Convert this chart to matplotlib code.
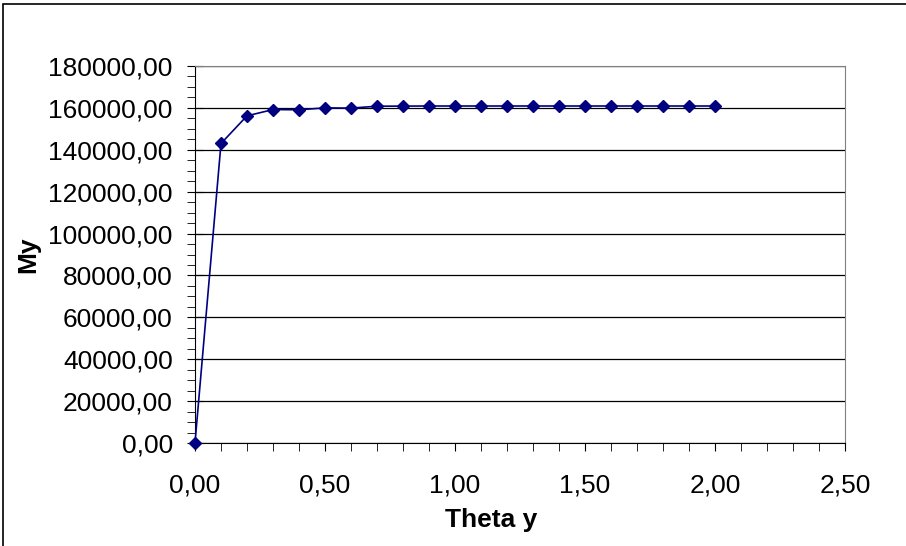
import numpy as np
import matplotlib.pyplot as plt
from matplotlib.ticker import MultipleLocator, FuncFormatter
from matplotlib.patches import Rectangle

# --- Data ---
theta_y = [0.0, 0.1, 0.2, 0.3, 0.4, 0.5, 0.6, 0.7, 0.8, 0.9, 1.0,
           1.1, 1.2, 1.3, 1.4, 1.5, 1.6, 1.7, 1.8, 1.9, 2.0]
my = [0.0, 143000, 156200, 159200, 159100, 160000, 159900, 160800, 160850, 160900, 160900,
      160900, 160900, 160900, 160900, 160900, 160900, 160900, 160900, 160900, 160900]

plt.rcParams['font.family'] = ['Liberation Sans', 'DejaVu Sans']

fig = plt.figure(figsize=(9.06, 5.46), dpi=100)
# outer chart frame (cut off at right/bottom like the original)
fig.patches.append(Rectangle((3 / 906, -0.1), 1.2, 1.1 - 4 / 546, transform=fig.transFigure,
                             fill=False, edgecolor='black', linewidth=1.2))

ax = fig.add_axes([195 / 906, 103 / 546, 650 / 906, 377 / 546])
ax.plot(theta_y, my, color='#000080', linewidth=1.2, marker='D', markersize=6,
        markerfacecolor='#000080', markeredgecolor='#000080', clip_on=False, zorder=3)

ax.set_xlim(0, 2.5)
ax.set_ylim(0, 180000)
ax.xaxis.set_major_locator(MultipleLocator(0.5))
ax.xaxis.set_minor_locator(MultipleLocator(0.1))
ax.yaxis.set_major_locator(MultipleLocator(20000))
ax.yaxis.set_minor_locator(MultipleLocator(5000))

comma = lambda v, p: f"{v:.2f}".replace('.', ',')
ax.xaxis.set_major_formatter(FuncFormatter(comma))
ax.yaxis.set_major_formatter(FuncFormatter(comma))

ax.grid(axis='y', which='major', color='black', linewidth=0.9)
ax.set_axisbelow(True)

for s in ['top', 'right']:
    ax.spines[s].set_color('#808080')
for s in ['left', 'bottom']:
    ax.spines[s].set_color('black')

ax.tick_params(axis='both', which='major', labelsize=19, color='black')
ax.tick_params(axis='x', which='major', length=6, direction='out', pad=16)
ax.tick_params(axis='x', which='minor', length=6, direction='out')
ax.tick_params(axis='y', which='major', length=12, direction='inout', pad=10)
ax.tick_params(axis='y', which='minor', length=6, direction='out')

ax.set_xlabel('Theta y', fontsize=19, fontweight='bold')
ax.xaxis.set_label_coords(0.455, -0.172)
ax.set_ylabel('My', fontsize=19, fontweight='bold', labelpad=6)

fig.savefig('out.png', dpi=100)
